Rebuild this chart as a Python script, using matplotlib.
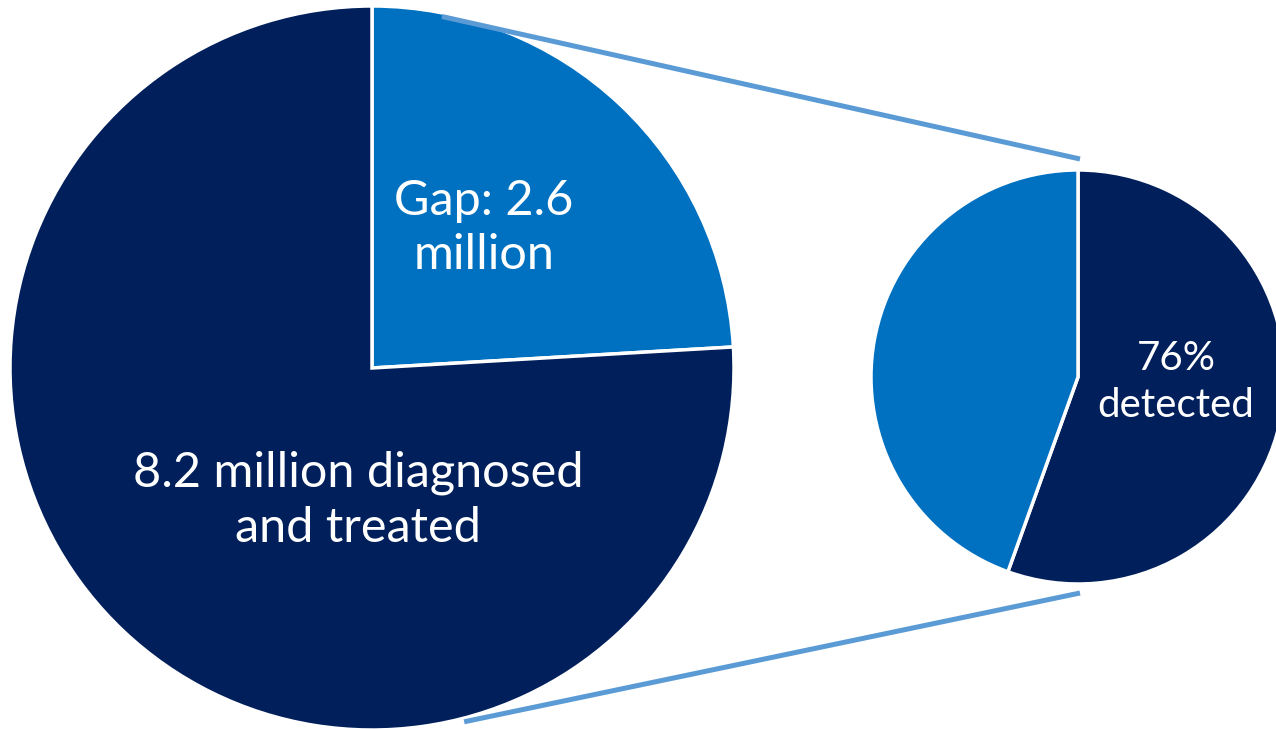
import matplotlib.pyplot as plt
import numpy as np

# big pie: people with the condition, in millions
big_labels = ["Gap: 2.6\nmillion", "8.2 million diagnosed\nand treated"]
big_values = [2.6, 8.2]

# small pie: breakdown of the gap
small_labels = ["76%\ndetected", ""]
small_values = [55.5, 44.5]

dark = "#001F5B"
light = "#0070C0"
link = "#5B9BD5"

W, H = 1276, 729
big_c, big_r = (372, H - 368), 362
small_c, small_r = (1078, H - 377), 207

fig = plt.figure(figsize=(W / 100, H / 100), dpi=100)
ax = fig.add_axes([0, 0, 1, 1])
plt.rcParams['font.family'] = ['Lato', 'DejaVu Sans']

ax.pie(big_values, colors=[light, dark], startangle=90, counterclock=False,
       center=big_c, radius=big_r, frame=True,
       wedgeprops=dict(edgecolor='white', linewidth=2.5))
ax.pie(small_values, colors=[dark, light], startangle=90, counterclock=False,
       center=small_c, radius=small_r, frame=True,
       wedgeprops=dict(edgecolor='white', linewidth=2.5))

# connector lines from the big pie rim to the small pie
a1, a2 = np.deg2rad(78.75), np.deg2rad(-75.4)
p1 = (big_c[0] + 0.99 * big_r * np.cos(a1), big_c[1] + 0.99 * big_r * np.sin(a1))
p2 = (big_c[0] + 1.01 * big_r * np.cos(a2), big_c[1] + 1.01 * big_r * np.sin(a2))
q1 = (small_c[0] + 2, small_c[1] + small_r + 11)
q2 = (small_c[0] + 2, small_c[1] - small_r - 9)
ax.plot([p1[0], q1[0]], [p1[1], q1[1]], color=link, lw=3.6, solid_capstyle='butt', zorder=5)
ax.plot([p2[0], q2[0]], [p2[1], q2[1]], color=link, lw=3.6, solid_capstyle='butt', zorder=5)

ax.text(484, H - 228, big_labels[0], color='white', fontsize=35,
        ha='center', va='center', linespacing=1.3)
ax.text(358, H - 500, big_labels[1], color='white', fontsize=35,
        ha='center', va='center', linespacing=1.3)
ax.text(1176, H - 382, small_labels[0], color='white', fontsize=29,
        ha='center', va='center', linespacing=1.35)

ax.set_xlim(0, W)
ax.set_ylim(0, H)
ax.set_aspect('equal')
ax.axis('off')
fig.savefig("out.png", dpi=100)
